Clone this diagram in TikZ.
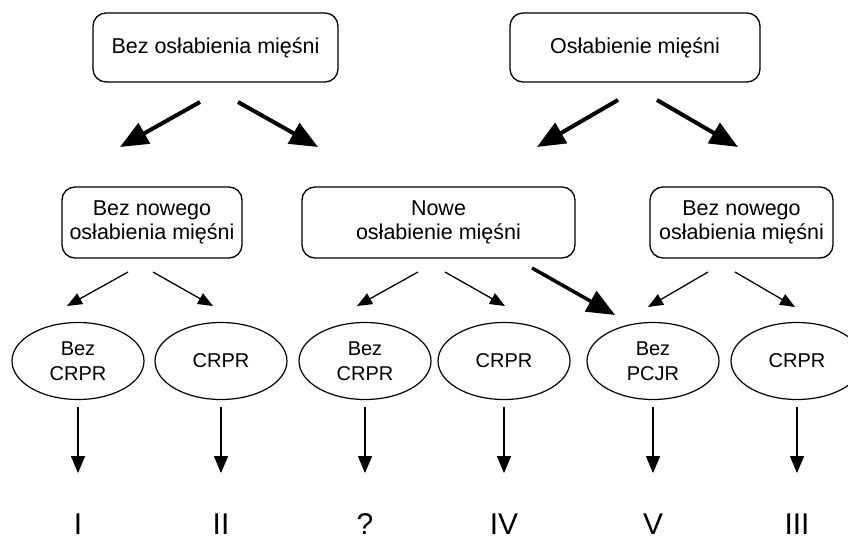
\documentclass[tikz,border=0pt]{standalone}
\usepackage{fontspec}
\setmainfont{Liberation Sans}
\usetikzlibrary{arrows.meta,shapes.geometric}
\begin{document}
\begin{tikzpicture}[x=1pt,y=-1pt,
 rbox/.style={draw,line width=1.3pt,rounded corners=13pt,minimum height=70pt,align=center,font=\fontsize{21.5}{24}\selectfont,inner sep=0pt},
 ell/.style={draw,ellipse,line width=1.2pt,minimum width=132pt,minimum height=77pt,inner sep=0pt,align=center,font=\fontsize{20}{25}\selectfont},
 num/.style={font=\fontsize{30}{30}\selectfont,inner sep=0pt,text height=22pt,text depth=0pt,anchor=south},
 bigarrow/.style={line width=4pt,-{Triangle[length=28pt,width=23pt]}},
 smallarrow/.style={line width=1.3pt,-{Triangle[length=15pt,width=12pt]}},
 varrow/.style={line width=1.2pt,-{Triangle[length=17pt,width=14pt]}}
]
\useasboundingbox (0,0) rectangle (848,540);

% top boxes
\node[rbox,minimum width=245pt,minimum height=69pt] (t1) at (215.5,47.5) {Bez osłabienia mięśni};
\node[rbox,minimum width=250pt,minimum height=69pt] (t2) at (635,47.5) {Osłabienie mięśni};

% middle boxes
\node[rbox,minimum width=180pt,minimum height=71pt] (m1) at (152,222.5) {Bez nowego\\osłabienia mięśni};
\node[rbox,minimum width=273pt,minimum height=71pt] (m2) at (438.5,222.5) {Nowe\\osłabienie mięśni};
\node[rbox,minimum width=183pt,minimum height=71pt] (m3) at (741.5,222.5) {Bez nowego\\osłabienia mięśni};

% ellipses
\node[ell] (e1) at (78,361) {Bez\\CRPR};
\node[ell] (e2) at (221,361) {CRPR};
\node[ell] (e3) at (365,361) {Bez\\CRPR};
\node[ell] (e4) at (504,361) {CRPR};
\node[ell] (e5) at (653,361) {Bez\\PCJR};
\node[ell] (e6) at (797,361) {CRPR};

% numerals
\node[num] (n1) at (78,535) {I};
\node[num] (n2) at (221,535) {II};
\node[num] (n3) at (365,535) {?};
\node[num] (n4) at (504,535) {IV};
\node[num] (n5) at (653,535) {V};
\node[num] (n6) at (797,535) {III};

% arrow end coordinates
\coordinate (a1s) at (200,102); \coordinate (a1e) at (120,147);
\coordinate (a2s) at (238,102); \coordinate (a2e) at (318,147);
\coordinate (a3s) at (618,100); \coordinate (a3e) at (537,147);
\coordinate (a4s) at (657,100); \coordinate (a4e) at (738,147);

\coordinate (b1s) at (128,272); \coordinate (b1e) at (67,306);
\coordinate (b2s) at (153,272); \coordinate (b2e) at (213,306);
\coordinate (b3s) at (418,272); \coordinate (b3e) at (357,306);
\coordinate (b4s) at (445,272); \coordinate (b4e) at (505,306);
\coordinate (b5s) at (532,268); \coordinate (b5e) at (615,315);
\coordinate (b6s) at (708,272); \coordinate (b6e) at (648,307);
\coordinate (b7s) at (735,272); \coordinate (b7e) at (795,307);

\draw[bigarrow] (a1s) -- (a1e);
\draw[bigarrow] (a2s) -- (a2e);
\draw[bigarrow] (a3s) -- (a3e);
\draw[bigarrow] (a4s) -- (a4e);

\draw[smallarrow] (b1s) -- (b1e);
\draw[smallarrow] (b2s) -- (b2e);
\draw[smallarrow] (b3s) -- (b3e);
\draw[smallarrow] (b4s) -- (b4e);
\draw[bigarrow,line width=3.5pt] (b5s) -- (b5e);
\draw[smallarrow] (b6s) -- (b6e);
\draw[smallarrow] (b7s) -- (b7e);

\foreach \i in {1,...,6}
  \draw[varrow] ([yshift=-7pt]e\i.south) -- ([yshift=-73pt]e\i.south);
\end{tikzpicture}
\end{document}
